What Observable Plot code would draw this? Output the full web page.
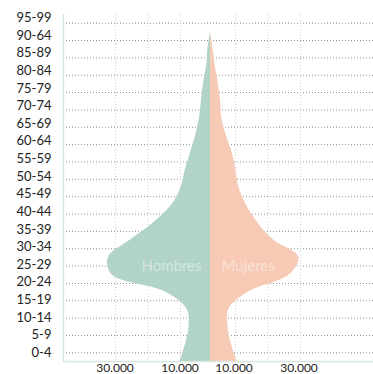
<!DOCTYPE html>
<html><head><meta charset="utf-8">
<script src="https://cdn.jsdelivr.net/npm/d3@7"></script>
<script src="https://cdn.jsdelivr.net/npm/@observablehq/plot@0.6"></script>
<style>
html,body{margin:0;padding:0;background:#fff;}
#chart svg{display:block;}
</style></head><body><div id="chart"></div>
<script>
// Age groups (bottom to top), as labelled in the reference
const ageGroups = ["0-4","5-9","10-14","15-19","20-24","25-29","30-34","35-39","40-44","45-49","50-54","55-59","60-64","65-69","70-74","75-79","80-84","85-89","90-64","95-99"];
// Population by age group
const hombres = [9400, 7700, 6600, 7200, 13800, 30300, 31400, 24600, 17500, 12000, 9100, 7800, 6200, 4600, 3400, 2800, 2200, 1200, 800, 0];
const mujeres = [8200, 6400, 5400, 5600, 11700, 24300, 27200, 19400, 14500, 11100, 8800, 7800, 6700, 4900, 3500, 3100, 2400, 1500, 800, 0];
// Axis ticks
const gridTicks = [10000, 20000, 30000];
const labelTicks = [10000, 30000];
const labelText = ["10.000", "30.000"];
const seriesNames = ["Hombres", "Mujeres"];
const xDomain = [-45230, 50150];

const rows = ageGroups.map((g, i) => ({group: g, i, hombres: hombres[i], mujeres: mujeres[i]}));

const green = "#b2d3c7", peach = "#f6cab5";

const chart = Plot.plot({
  width: 373, height: 374,
  marginLeft: 63, marginRight: 0, marginTop: 14, marginBottom: 13,
  x: {domain: xDomain, axis: null},
  y: {domain: [-0.5, ageGroups.length - 0.5], axis: null},
  style: {fontFamily: "Lato, 'Open Sans', sans-serif", background: "#fff"},
  marks: [
    // horizontal dotted gridlines at each age group
    Plot.ruleY(rows, {y: "i", stroke: "#8f8f8f", strokeWidth: 1, strokeDasharray: "1,2"}),
    // vertical dotted gridlines
    Plot.ruleX(gridTicks, {x: d => -d, dx: 2.5, stroke: "#cfcfcf", strokeDasharray: "1,2"}),
    Plot.ruleX(gridTicks, {x: d => d, dx: -7.5, stroke: "#cfcfcf", strokeDasharray: "1,2"}),
    // areas
    Plot.areaX(rows, {y: d => d.i - 0.5, x1: 0, x2: d => -d.hombres, fill: green, curve: "catmull-rom"}),
    Plot.areaX(rows, {y: d => d.i - 0.5, x1: 0, x2: d => d.mujeres, fill: peach, curve: "catmull-rom"}),
    // series labels
    Plot.text([seriesNames[0]], {x: 0, y: 5, text: d => d, dx: -9, textAnchor: "end", fill: "#fff", fillOpacity: 0.45, fontSize: 15}),
    Plot.text([seriesNames[1]], {x: 0, y: 5, text: d => d, dx: 11, textAnchor: "start", fill: "#fff", fillOpacity: 0.45, fontSize: 15}),
    // frame lines
    Plot.ruleX([xDomain[0]], {stroke: "#d6e6e0", strokeWidth: 1.5}),
    Plot.ruleY([-0.5], {stroke: "#d6e6e0", strokeWidth: 1.5}),
    // y labels
    Plot.text(rows, {y: d => d.i * 1.016, text: "group", frameAnchor: "left", dx: -12, textAnchor: "end", fontSize: 13, fill: "#222"}),
    // x labels
    Plot.text(labelTicks, {x: d => -d, y: -0.5, text: (d, i) => labelText[i], dx: 2, dy: 6.5, fontSize: 12, fill: "#222"}),
    Plot.text(labelTicks, {x: d => d, y: -0.5, text: (d, i) => labelText[i], dx: -9, dy: 6.5, fontSize: 12, fill: "#222"})
  ]
});
document.getElementById("chart").append(chart);
</script>
</body></html>
